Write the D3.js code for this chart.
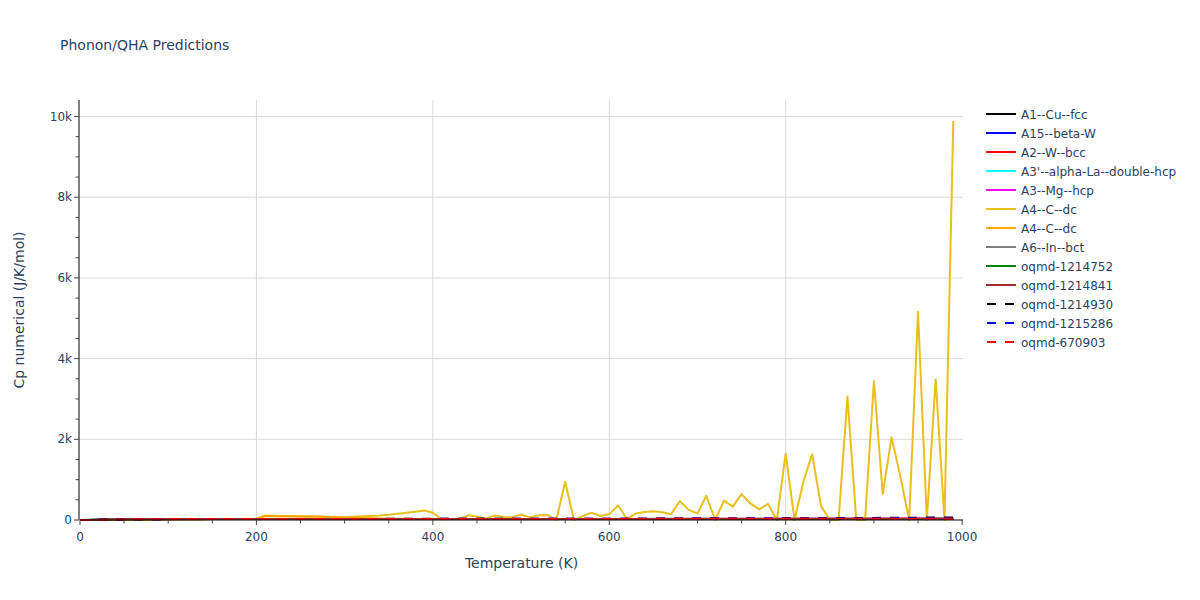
<!DOCTYPE html>
<html>
<head>
<meta charset="utf-8">
<script src="https://cdn.jsdelivr.net/npm/d3@7"></script>
<style>
  body { margin: 0; background: #fff; }
  text { font-family: "DejaVu Sans", Verdana, sans-serif; }
</style>
</head>
<body>
<svg id="chart" width="1200" height="600"></svg>
<script>
// ---------- DATA ----------
const title = "Phonon/QHA Predictions";
const xTitle = "Temperature (K)";
const yTitle = "Cp numerical (J/K/mol)";
const xTickValues = [0, 200, 400, 600, 800, 1000];
const yTickValues = [0, 2000, 4000, 6000, 8000, 10000];

// fine temperature grid (K) used by the A4 curves
const tempsFine = [0,10,20,30,40,50,60,70,80,90,100,110,120,130,140,150,160,170,180,190,
  200,210,220,230,240,250,260,270,280,290,300,310,320,330,340,350,360,370,380,390,
  400,410,420,430,440,450,460,470,480,490,500,510,520,530,540,550,560,570,580,590,
  600,610,620,630,640,650,660,670,680,690,700,710,720,730,740,750,760,770,780,790,
  800,810,820,830,840,850,860,870,880,890,900,910,920,930,940,950,960,970,980,990];

const a4YellowCp = [0,0,1,3,5,8,10,12,14,16,17,18,19,20,21,22,22,23,23,24,
  30,110,105,100,98,95,90,85,80,75,70,80,90,100,110,130,155,180,205,235,
  180,20,25,25,115,85,30,110,75,65,135,65,115,125,0,950,0,95,180,100,
  140,360,30,160,200,215,190,145,470,250,160,600,0,480,330,640,410,265,400,0,
  1650,0,950,1630,350,0,0,3060,0,0,3445,645,2050,1075,0,5160,0,3485,0,9890];

const a4OrangeCp = [0,0,1,3,5,8,10,12,14,16,17,18,19,20,21,22,22,23,23,24,
  28,95,92,90,88,85,82,78,74,70,62,55,48,42,38,34,31,29,27,26,
  26,26,26,26,26,26,26,26,26,26,26,26,26,26,26,26,26,26,26,26,
  26,26,26,26,26,26,26,26,26,26,26,26,26,26,26,26,26,26,26,26,
  26,26,26,26,26,26,26,26,26,26,26,26,26,26,26,26,26,26,26,26];

// coarse temperature grid (K) used by the near-flat curves
const tempsCoarse = [0,10,20,30,50,75,100,150,200,250,300,350,400,450,500,550,600,650,700,750,800,850,900,950,990];

const cuFccCp      = [0,0.5,4,9.5,16,20.5,22.6,23.9,24.4,24.6,24.8,25,25.1,25.3,25.4,25.6,25.8,25.9,26.1,26.3,26.5,26.7,26.9,27.1,27.3];
const betaWCp      = [0,0.2,2,6,13,18.5,21.5,23.5,24.3,24.7,25,25.2,25.4,25.6,25.8,26,26.2,26.4,26.6,26.8,27,27.3,27.6,27.9,28.2];
const wBccCp       = [0,0.1,1.5,5,12,17.5,20.8,23,24,24.5,24.8,25.1,25.4,25.7,26,26.3,26.6,26.9,27.2,27.5,27.8,28.1,28.4,28.7,29];
const alphaLaCp    = [0,3,10,15,20,22.5,23.6,24.4,24.8,25,25.2,25.4,25.6,25.8,26,26.2,26.4,26.6,26.8,27,27.2,27.4,27.6,27.8,28];
const mgHcpCp      = [0,0.3,3,8,15,19.5,21.8,23.6,24.3,24.7,25,25.3,25.6,25.9,26.2,26.5,26.8,27.1,27.4,27.7,28,28.3,28.6,28.9,29.2];
const inBctCp      = [0,4,12,17,21,23,24,24.8,25.2,25.5,25.8,26.1,26.4,26.7,27,27.3,27.6,27.9,28.2,28.5,28.8,29.1,29.4,29.7,30];
const oqmd1214752Cp = [0,1,6,12,18,21.5,23,24.2,24.6,24.9,25.1,25.3,25.5,25.7,25.9,26.1,26.3,26.5,26.7,26.9,27.1,27.3,27.5,27.7,27.9];
const oqmd1214841Cp = [0,2,8,14,19.5,22.3,23.5,24.5,25,25.3,25.6,25.9,26.2,26.5,26.8,27.1,27.4,27.7,28,28.3,28.6,28.9,29.2,29.5,29.8];
const oqmd1214930Cp = [0,0.6,4.5,10,16.5,21,23,24.3,25,26,27,28,29,30,31,32,33,34,36,38,41,45,52,58,62];
const oqmd1215286Cp = [0,0.4,3.5,9,15.5,20,22.3,23.8,24.6,25.4,26.2,27,27.9,28.8,29.8,30.9,32,33.2,34.5,35.9,37.4,39,40.7,42.5,44.4];
const oqmd670903Cp  = [0,0.2,2.2,7,14,19,21.8,23.6,24.4,24.9,25.3,25.7,26.1,26.5,26.9,27.3,27.7,28.1,28.5,28.9,29.3,29.7,30.1,30.5,30.9];

const seriesNames  = ["A1--Cu--fcc","A15--beta-W","A2--W--bcc","A3'--alpha-La--double-hcp","A3--Mg--hcp",
                      "A4--C--dc","A4--C--dc","A6--In--bct","oqmd-1214752","oqmd-1214841",
                      "oqmd-1214930","oqmd-1215286","oqmd-670903"];
const seriesColors = ["#000000","#0000ff","#ff0000","#00ffff","#ff00ff",
                      "#e8bf1c","#ffa500","#808080","#008000","#a52a2a",
                      "#000000","#0000ff","#ff0000"];
const seriesDashed = [false,false,false,false,false,false,false,false,false,false,true,true,true];
const seriesX = [tempsCoarse,tempsCoarse,tempsCoarse,tempsCoarse,tempsCoarse,
                 tempsFine,tempsFine,tempsCoarse,tempsCoarse,tempsCoarse,
                 tempsCoarse,tempsCoarse,tempsCoarse];
const seriesY = [cuFccCp,betaWCp,wBccCp,alphaLaCp,mgHcpCp,
                 a4YellowCp,a4OrangeCp,inBctCp,oqmd1214752Cp,oqmd1214841Cp,
                 oqmd1214930Cp,oqmd1215286Cp,oqmd670903Cp];

// ---------- LAYOUT ----------
const svg = d3.select("#chart");
const pL = 80, pR = 963, pT = 100, pB = 520;
const textColor = "#2a3f5f";

const x = d3.scaleLinear().domain([0, 1001]).range([pL, pR]);
const y = d3.scaleLinear().domain([0, 10410]).range([pB, pT]);

// grid
const grid = svg.append("g");
grid.selectAll(".gx").data(xTickValues.filter(v => v > 0 && v < 1000)).enter()
  .append("line").attr("x1", d => x(d)).attr("x2", d => x(d))
  .attr("y1", pT).attr("y2", pB).attr("stroke", "#d9d9d9").attr("stroke-width", 1);
grid.selectAll(".gy").data(yTickValues.filter(v => v > 0)).enter()
  .append("line").attr("x1", pL).attr("x2", pR)
  .attr("y1", d => y(d)).attr("y2", d => y(d)).attr("stroke", "#d9d9d9").attr("stroke-width", 1);

// lines
svg.append("clipPath").attr("id", "plotclip")
  .append("rect").attr("x", pL).attr("y", pT - 2).attr("width", pR - pL).attr("height", pB - pT + 4);
const plot = svg.append("g").attr("clip-path", "url(#plotclip)");
const line = d3.line().x(d => x(d[0])).y(d => y(d[1]));
seriesNames.forEach((name, i) => {
  const pts = seriesX[i].map((t, j) => [t, seriesY[i][j]]);
  plot.append("path").datum(pts)
    .attr("d", line).attr("fill", "none")
    .attr("stroke", seriesColors[i]).attr("stroke-width", 2)
    .attr("stroke-linejoin", "round")
    .attr("stroke-dasharray", seriesDashed[i] ? "9,9" : null);
});

// axes
const xMinor = d3.range(0, 1001, 50);
const yMinor = d3.range(0, 10001, 500);
const xAxisG = svg.append("g").attr("transform", `translate(0,${pB})`);
xAxisG.append("line").attr("x1", pL).attr("x2", pR).attr("stroke", "#000");
xAxisG.selectAll(".mt").data(xMinor).enter().append("line")
  .attr("x1", d => x(d)).attr("x2", d => x(d)).attr("y1", 0)
  .attr("y2", d => xTickValues.includes(d) ? 5 : 3.5).attr("stroke", "#444");
xAxisG.selectAll(".tl").data(xTickValues).enter().append("text")
  .attr("x", d => x(d)).attr("y", 21).attr("text-anchor", "middle")
  .attr("font-size", 12).attr("fill", textColor).text(d => d);

const yAxisG = svg.append("g").attr("transform", `translate(${pL - 1},0)`);
yAxisG.append("line").attr("y1", pT).attr("y2", pB).attr("stroke", "#000");
yAxisG.selectAll(".mt").data(yMinor).enter().append("line")
  .attr("y1", d => y(d)).attr("y2", d => y(d)).attr("x1", 0)
  .attr("x2", d => yTickValues.includes(d) ? -5 : -3.5).attr("stroke", "#444");
const yFmt = d3.format("~s");
yAxisG.selectAll(".tl").data(yTickValues).enter().append("text")
  .attr("x", -7).attr("y", d => y(d) + 4).attr("text-anchor", "end")
  .attr("font-size", 12).attr("fill", textColor).text(d => yFmt(d));

// titles
svg.append("text").attr("x", 60).attr("y", 50).attr("font-size", 14)
  .attr("fill", textColor).text(title);
svg.append("text").attr("x", (pL + pR) / 2).attr("y", 568).attr("text-anchor", "middle")
  .attr("font-size", 14).attr("fill", textColor).text(xTitle);
svg.append("text").attr("transform", `translate(24,${(pT + pB) / 2}) rotate(-90)`)
  .attr("text-anchor", "middle").attr("font-size", 14).attr("fill", textColor).text(yTitle);

// legend
const leg = svg.append("g");
seriesNames.forEach((name, i) => {
  const ly = 114 + i * 19;
  leg.append("line").attr("x1", 986).attr("x2", 1016).attr("y1", ly).attr("y2", ly)
    .attr("stroke", seriesColors[i]).attr("stroke-width", 2)
    .attr("stroke-dasharray", seriesDashed[i] ? "9,9" : null)
    .attr("stroke-dashoffset", seriesDashed[i] ? -1 : null);
  leg.append("text").attr("x", 1021).attr("y", ly + 4.5).attr("font-size", 12)
    .attr("fill", textColor).text(name);
});
</script>
</body>
</html>
